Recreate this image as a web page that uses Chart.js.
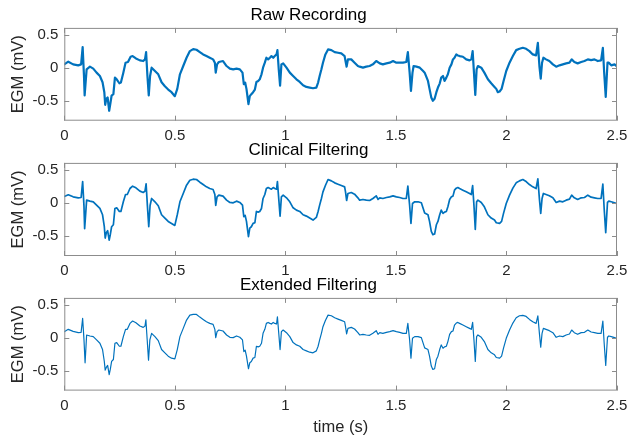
<!DOCTYPE html>
<html>
<head>
<meta charset="utf-8">
<script src="https://cdn.jsdelivr.net/npm/chart.js@4.4.1/dist/chart.umd.min.js"></script>
<style>
  html, body { margin: 0; padding: 0; background: #fff; }
  body { width: 640px; height: 439px; position: relative; overflow: hidden; }
  .panel { position: absolute; left: 0; width: 640px; }
</style>
</head>
<body>
<div class="panel" id="p1" style="top:0px;height:145px;"><canvas id="c1"></canvas></div>
<div class="panel" id="p2" style="top:135px;height:145px;"><canvas id="c2"></canvas></div>
<div class="panel" id="p3" style="top:270px;height:169px;"><canvas id="c3"></canvas></div>
<script>
// ---------- data ----------
const panelTitles = ['Raw Recording', 'Clinical Filtering', 'Extended Filtering'];
const xTicks = [0, 0.5, 1, 1.5, 2, 2.5];
const yTicks = [-0.5, 0, 0.5];

const rawT = [0.000,0.018,0.040,0.063,0.076,0.083,0.089,0.092,0.101,0.116,0.131,0.146,0.161,0.173,0.181,0.185,0.190,0.196,0.203,0.208,0.214,0.222,0.229,0.237,0.249,0.256,0.267,0.277,0.288,0.300,0.309,0.324,0.342,0.357,0.365,0.370,0.376,0.382,0.388,0.395,0.410,0.425,0.440,0.455,0.470,0.485,0.500,0.511,0.523,0.538,0.553,0.568,0.583,0.598,0.613,0.628,0.643,0.658,0.673,0.681,0.685,0.691,0.699,0.718,0.734,0.749,0.764,0.779,0.794,0.806,0.812,0.818,0.824,0.833,0.839,0.846,0.854,0.862,0.869,0.877,0.884,0.892,0.899,0.907,0.914,0.922,0.930,0.937,0.945,0.952,0.960,0.964,0.970,0.976,0.982,0.990,1.005,1.020,1.035,1.050,1.065,1.080,1.095,1.110,1.125,1.140,1.148,1.155,1.163,1.170,1.181,1.193,1.208,1.223,1.238,1.253,1.268,1.272,1.277,1.283,1.298,1.313,1.328,1.336,1.351,1.366,1.381,1.396,1.411,1.427,1.441,1.457,1.472,1.487,1.502,1.517,1.532,1.547,1.554,1.562,1.568,1.575,1.580,1.593,1.608,1.623,1.630,1.645,1.652,1.660,1.667,1.675,1.683,1.690,1.698,1.705,1.713,1.720,1.728,1.735,1.743,1.751,1.758,1.765,1.773,1.780,1.788,1.803,1.818,1.833,1.841,1.847,1.853,1.859,1.865,1.871,1.886,1.900,1.916,1.931,1.946,1.954,1.961,1.969,1.978,1.987,1.999,2.014,2.029,2.044,2.059,2.074,2.089,2.104,2.119,2.134,2.142,2.149,2.155,2.161,2.167,2.179,2.194,2.210,2.225,2.240,2.255,2.270,2.285,2.295,2.307,2.322,2.338,2.353,2.368,2.383,2.398,2.413,2.428,2.436,2.442,2.449,2.457,2.463,2.474,2.489,2.497];
const rawV = [0.05,0.09,0.05,0.035,0.05,0.31,-0.12,-0.42,-0.025,0.015,-0.015,-0.075,-0.125,-0.22,-0.37,-0.56,-0.47,-0.45,-0.65,-0.55,-0.42,-0.40,-0.15,-0.175,-0.235,-0.225,-0.075,0.075,0.085,0.165,0.175,0.14,0.11,0.10,0.125,0.235,-0.125,-0.42,-0.125,0.0,-0.05,-0.10,-0.22,-0.28,-0.33,-0.37,-0.43,-0.32,-0.10,0.025,0.15,0.25,0.28,0.27,0.235,0.20,0.175,0.15,0.125,0.075,-0.075,0.05,0.085,0.10,0.025,-0.015,-0.025,-0.015,-0.025,-0.075,-0.25,-0.225,-0.32,-0.55,-0.43,-0.40,-0.37,-0.33,-0.215,-0.20,-0.175,-0.10,0.0,0.075,0.15,0.125,0.15,0.175,0.15,0.175,0.20,0.265,-0.025,-0.27,0.05,0.065,0.0,-0.075,-0.125,-0.175,-0.215,-0.265,-0.29,-0.30,-0.31,-0.30,-0.225,-0.125,-0.025,0.075,0.20,0.275,0.265,0.235,0.225,0.215,0.175,0.10,0.015,0.125,0.125,0.075,0.025,0.015,0.0,0.015,0.025,0.05,0.10,0.065,0.05,0.065,0.075,0.10,0.075,0.075,0.075,0.085,0.235,-0.075,-0.35,-0.075,0.025,0.015,0.0,-0.05,-0.075,-0.20,-0.32,-0.45,-0.50,-0.47,-0.37,-0.30,-0.24,-0.15,-0.125,-0.20,-0.15,-0.10,0.0,0.05,0.125,0.15,0.20,0.185,0.175,0.165,0.125,0.11,0.125,0.25,-0.075,-0.41,-0.025,0.025,0.0,-0.075,-0.175,-0.235,-0.29,-0.32,-0.37,-0.36,-0.32,-0.20,-0.05,0.075,0.175,0.265,0.285,0.30,0.285,0.25,0.20,0.185,0.375,0.025,-0.165,0.075,0.15,0.125,0.10,0.05,0.015,0.035,0.05,0.065,0.075,0.125,0.085,0.065,0.085,0.10,0.125,0.115,0.125,0.10,0.11,0.30,-0.075,-0.44,0.075,0.075,0.035,0.05,0.025];

const clinT = [0.000,0.018,0.040,0.063,0.076,0.083,0.089,0.092,0.101,0.116,0.131,0.146,0.161,0.173,0.181,0.185,0.190,0.196,0.203,0.208,0.214,0.222,0.229,0.237,0.249,0.256,0.267,0.277,0.285,0.297,0.309,0.324,0.342,0.357,0.365,0.370,0.376,0.382,0.388,0.395,0.410,0.425,0.440,0.455,0.470,0.485,0.500,0.511,0.523,0.538,0.553,0.568,0.583,0.598,0.613,0.628,0.643,0.658,0.673,0.681,0.685,0.691,0.699,0.718,0.734,0.749,0.764,0.779,0.794,0.806,0.812,0.818,0.824,0.833,0.839,0.846,0.854,0.862,0.869,0.877,0.884,0.892,0.899,0.907,0.914,0.922,0.930,0.937,0.945,0.952,0.960,0.964,0.970,0.976,0.982,0.990,1.005,1.020,1.035,1.050,1.065,1.080,1.095,1.110,1.125,1.140,1.148,1.155,1.163,1.170,1.181,1.193,1.208,1.223,1.238,1.253,1.268,1.272,1.277,1.283,1.298,1.313,1.328,1.336,1.351,1.366,1.381,1.396,1.411,1.419,1.427,1.441,1.457,1.472,1.487,1.502,1.517,1.532,1.547,1.554,1.562,1.568,1.575,1.585,1.600,1.615,1.630,1.645,1.652,1.660,1.667,1.675,1.683,1.690,1.698,1.705,1.713,1.720,1.728,1.735,1.743,1.751,1.758,1.765,1.773,1.780,1.788,1.803,1.818,1.833,1.841,1.847,1.853,1.859,1.865,1.871,1.886,1.900,1.916,1.931,1.946,1.954,1.969,1.978,1.987,1.999,2.014,2.029,2.044,2.059,2.074,2.089,2.104,2.119,2.134,2.142,2.149,2.155,2.161,2.167,2.179,2.194,2.210,2.225,2.240,2.255,2.270,2.285,2.295,2.307,2.322,2.338,2.353,2.368,2.383,2.398,2.413,2.428,2.436,2.442,2.449,2.457,2.463,2.474,2.489,2.497];
const clinV = [0.095,0.12,0.09,0.075,0.08,0.32,-0.05,-0.39,0.04,0.025,0.015,-0.035,-0.085,-0.18,-0.36,-0.53,-0.45,-0.42,-0.56,-0.48,-0.36,-0.33,-0.085,-0.075,-0.13,-0.13,0.015,0.125,0.125,0.215,0.25,0.225,0.175,0.155,0.175,0.285,-0.05,-0.36,-0.04,0.065,0.015,-0.045,-0.18,-0.23,-0.28,-0.31,-0.34,-0.18,0.015,0.14,0.265,0.34,0.355,0.35,0.31,0.275,0.24,0.215,0.20,0.125,-0.04,0.09,0.115,0.10,0.04,0.005,0.0,0.025,0.005,-0.035,-0.21,-0.19,-0.28,-0.51,-0.38,-0.36,-0.31,-0.30,-0.13,-0.14,-0.13,-0.085,0.065,0.125,0.215,0.23,0.215,0.205,0.23,0.215,0.205,0.32,0.06,-0.20,0.09,0.115,0.075,0.015,-0.075,-0.11,-0.13,-0.18,-0.20,-0.23,-0.26,-0.22,-0.13,-0.035,0.065,0.165,0.26,0.35,0.33,0.30,0.28,0.26,0.24,0.165,0.035,0.14,0.155,0.13,0.075,0.04,0.05,0.04,0.035,0.065,0.105,0.05,0.075,0.065,0.08,0.09,0.105,0.09,0.08,0.065,0.065,0.25,-0.04,-0.31,-0.01,0.015,0.015,0.0,-0.155,-0.18,-0.28,-0.43,-0.48,-0.47,-0.33,-0.28,-0.18,-0.11,-0.16,-0.14,-0.13,-0.06,0.05,0.09,0.10,0.19,0.22,0.23,0.215,0.19,0.165,0.14,0.125,0.26,-0.04,-0.40,0.015,0.04,0.005,-0.06,-0.18,-0.23,-0.26,-0.30,-0.31,-0.28,-0.155,-0.01,0.115,0.22,0.30,0.33,0.35,0.32,0.275,0.24,0.215,0.36,0.06,-0.16,0.065,0.14,0.125,0.105,0.075,0.005,0.025,0.015,0.04,0.055,0.115,0.075,0.05,0.075,0.08,0.115,0.085,0.075,0.065,0.065,0.28,-0.09,-0.45,0.005,0.025,0.015,0.0,-0.01];

const extT = [0.000,0.018,0.040,0.063,0.076,0.083,0.089,0.094,0.101,0.116,0.131,0.146,0.161,0.173,0.181,0.185,0.190,0.196,0.203,0.208,0.214,0.222,0.229,0.237,0.249,0.256,0.267,0.277,0.285,0.297,0.309,0.324,0.342,0.357,0.365,0.369,0.375,0.381,0.387,0.395,0.410,0.425,0.440,0.455,0.470,0.485,0.500,0.511,0.523,0.538,0.553,0.568,0.583,0.598,0.613,0.628,0.643,0.658,0.673,0.681,0.685,0.691,0.699,0.718,0.734,0.749,0.764,0.779,0.794,0.806,0.812,0.818,0.824,0.833,0.839,0.846,0.854,0.862,0.869,0.877,0.884,0.892,0.899,0.907,0.914,0.922,0.930,0.937,0.945,0.952,0.960,0.964,0.970,0.976,0.982,0.990,1.005,1.020,1.035,1.050,1.065,1.080,1.095,1.110,1.125,1.140,1.148,1.155,1.163,1.170,1.181,1.193,1.208,1.223,1.238,1.253,1.268,1.272,1.277,1.283,1.298,1.313,1.328,1.336,1.351,1.366,1.381,1.396,1.411,1.419,1.427,1.441,1.457,1.472,1.487,1.502,1.517,1.532,1.547,1.554,1.562,1.568,1.575,1.585,1.600,1.615,1.630,1.645,1.652,1.660,1.667,1.675,1.683,1.690,1.698,1.705,1.713,1.720,1.728,1.735,1.743,1.751,1.758,1.765,1.773,1.780,1.788,1.803,1.818,1.833,1.841,1.847,1.853,1.859,1.865,1.871,1.886,1.900,1.916,1.931,1.946,1.954,1.969,1.978,1.987,1.999,2.014,2.029,2.044,2.059,2.074,2.089,2.104,2.119,2.134,2.142,2.149,2.155,2.161,2.167,2.179,2.194,2.210,2.225,2.240,2.255,2.270,2.285,2.295,2.307,2.322,2.338,2.353,2.368,2.383,2.398,2.413,2.428,2.436,2.442,2.449,2.457,2.463,2.474,2.489,2.497];
const extV = [0.09,0.125,0.095,0.075,0.08,0.29,-0.03,-0.38,0.04,0.025,0.015,-0.035,-0.085,-0.18,-0.36,-0.49,-0.45,-0.42,-0.56,-0.48,-0.36,-0.33,-0.085,-0.075,-0.13,-0.13,0.015,0.125,0.125,0.215,0.25,0.225,0.175,0.155,0.175,0.27,-0.035,-0.34,-0.035,0.065,0.015,-0.045,-0.18,-0.23,-0.28,-0.31,-0.32,-0.18,0.015,0.14,0.265,0.34,0.35,0.35,0.31,0.275,0.24,0.215,0.20,0.125,0.0,0.09,0.115,0.10,0.04,0.005,0.0,0.025,0.005,-0.035,-0.21,-0.19,-0.28,-0.47,-0.38,-0.36,-0.31,-0.30,-0.13,-0.14,-0.13,-0.085,0.065,0.125,0.215,0.23,0.215,0.205,0.23,0.215,0.205,0.315,0.065,-0.18,0.09,0.115,0.075,0.015,-0.075,-0.11,-0.13,-0.18,-0.20,-0.22,-0.23,-0.20,-0.13,-0.035,0.065,0.165,0.26,0.34,0.33,0.30,0.28,0.26,0.24,0.165,0.055,0.14,0.155,0.13,0.075,0.04,0.05,0.04,0.035,0.065,0.105,0.05,0.075,0.065,0.08,0.09,0.105,0.09,0.08,0.065,0.065,0.215,-0.035,-0.31,-0.01,0.015,0.015,0.0,-0.155,-0.18,-0.28,-0.43,-0.48,-0.47,-0.33,-0.28,-0.18,-0.11,-0.16,-0.14,-0.13,-0.06,0.05,0.09,0.10,0.19,0.22,0.23,0.215,0.19,0.165,0.14,0.125,0.23,-0.035,-0.36,0.015,0.04,0.005,-0.06,-0.18,-0.23,-0.26,-0.30,-0.31,-0.28,-0.155,-0.01,0.115,0.22,0.30,0.33,0.335,0.32,0.275,0.24,0.215,0.33,0.065,-0.145,0.065,0.14,0.125,0.105,0.075,0.005,0.025,0.015,0.04,0.055,0.115,0.075,0.05,0.075,0.08,0.115,0.085,0.075,0.065,0.065,0.25,-0.085,-0.42,0.005,0.025,0.015,0.0,-0.01];

// ---------- drawing ----------
const FONT = 'Helvetica, "Liberation Sans", Arial, sans-serif';
const LINE = '#0072BD';

const boxPlugin = {
  id: 'matlabBox',
  afterDraw(chart) {
    const { ctx, chartArea: a, scales: { x, y } } = chart;
    ctx.save();
    ctx.strokeStyle = '#8c8c8c';
    ctx.lineWidth = 1;
    ctx.strokeRect(a.left + 0.5, a.top + 0.5, a.right - a.left - 1, a.bottom - a.top - 1);
    ctx.beginPath();
    x.ticks.forEach(tk => {
      const px = Math.round(x.getPixelForValue(tk.value)) + 0.5;
      ctx.moveTo(px, a.bottom); ctx.lineTo(px, a.bottom - 5);
      ctx.moveTo(px, a.top); ctx.lineTo(px, a.top + 5);
    });
    y.ticks.forEach(tk => {
      const py = Math.round(y.getPixelForValue(tk.value)) + 0.5;
      ctx.moveTo(a.left, py); ctx.lineTo(a.left + 5, py);
      ctx.moveTo(a.right, py); ctx.lineTo(a.right - 5, py);
    });
    ctx.stroke();
    ctx.restore();
  }
};

function makeChart(canvasId, title, ts, vs, lw, xh, showXTitle) {
  const pts = ts.map((t, i) => ({ x: t, y: vs[i] }));
  return new Chart(document.getElementById(canvasId), {
    type: 'line',
    data: { datasets: [{ data: pts, borderColor: LINE, borderWidth: lw, borderJoinStyle: 'round', borderCapStyle: 'round', pointRadius: 0, tension: 0, fill: false }] },
    options: {
      responsive: true,
      maintainAspectRatio: false,
      animation: false,
      events: [],
      layout: { padding: { left: 0, right: 23, top: 0, bottom: 0 } },
      plugins: {
        legend: { display: false },
        tooltip: { enabled: false },
        title: {
          display: true, text: title, color: '#000',
          font: { family: FONT, size: 17, weight: 'normal' },
          padding: { top: 5, bottom: 2.5 }
        }
      },
      scales: {
        x: {
          type: 'linear', min: 0, max: 2.5,
          afterBuildTicks: s => { s.ticks = xTicks.map(v => ({ value: v })); },
          afterFit: s => { s.height = xh; },
          grid: { display: false, drawTicks: false },
          border: { display: false },
          ticks: { color: '#262626', font: { family: FONT, size: 15 }, padding: 6, maxRotation: 0, callback: v => String(v) },
          title: { display: showXTitle, text: 'time (s)', color: '#262626', font: { family: FONT, size: 16.5 }, padding: { top: 0, bottom: 2 } }
        },
        y: {
          type: 'linear', min: -0.8, max: 0.6,
          afterBuildTicks: s => { s.ticks = yTicks.map(v => ({ value: v })); },
          afterFit: s => { s.width = 64.3; },
          grid: { display: false, drawTicks: false },
          border: { display: false },
          ticks: { color: '#262626', font: { family: FONT, size: 15 }, padding: 6, callback: v => String(v) },
          title: { display: true, text: 'EGM (mV)', color: '#262626', font: { family: FONT, size: 16.5 }, padding: { top: 9, bottom: 0 } }
        }
      }
    },
    plugins: [boxPlugin]
  });
}

makeChart('c1', panelTitles[0], rawT, rawV, 2.2, 24.3, false);
makeChart('c2', panelTitles[1], clinT, clinV, 1.7, 24, false);
makeChart('c3', panelTitles[2], extT, extV, 1.2, 48.4, true);
</script>
</body>
</html>
